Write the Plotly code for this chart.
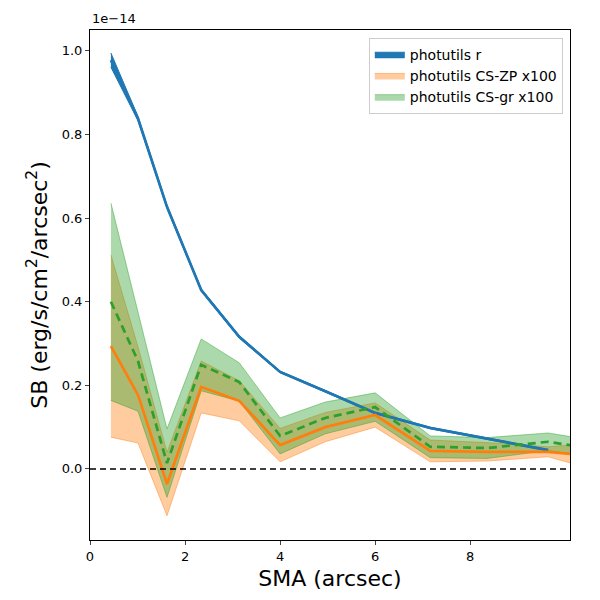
import plotly.graph_objects as go

# SMA (arcsec)
sma = [0.44, 1.01, 1.62, 2.34, 3.14, 4.0, 4.95, 6.0, 7.16, 8.36, 9.64, 11.0]

# photutils r surface brightness (units of 1e-14), last point missing
sb_r = [0.978, 0.838, 0.627, 0.428, 0.316, 0.232, 0.186, 0.134, 0.098, 0.072, 0.045, None]
sb_r_err = [0.017, 0.005, 0.004, 0.003, 0.003, 0.002, 0.002, 0.002, 0.002, 0.002, 0.002, None]

# photutils CS-ZP x100 (units of 1e-14)
sb_zp = [0.294, 0.177, -0.036, 0.196, 0.163, 0.057, 0.100, 0.129, 0.043, 0.041, 0.041, 0.026]
sb_zp_err = [0.218, 0.115, 0.076, 0.062, 0.048, 0.040, 0.035, 0.029, 0.026, 0.022, 0.012, 0.040]

# photutils CS-gr x100 (units of 1e-14)
sb_gr = [0.400, 0.258, 0.014, 0.249, 0.208, 0.079, 0.122, 0.148, 0.053, 0.050, 0.065, 0.041]
sb_gr_err = [0.236, 0.120, 0.082, 0.062, 0.046, 0.043, 0.038, 0.034, 0.026, 0.025, 0.021, 0.020]

xticks = [0, 2, 4, 6, 8]
yticks = [0.0, 0.2, 0.4, 0.6, 0.8, 1.0]

BLUE = "#1f77b4"
ORANGE = "#ff7f0e"
GREEN = "#2ca02c"


def band(vals, errs, sign):
    return [None if v is None else v + sign * e for v, e in zip(vals, errs)]


fig = go.Figure()

series = [
    (sb_r, sb_r_err, "photutils r", "rgba(31,119,180,1)", "rgba(31,119,180,1)"),
    (sb_zp, sb_zp_err, "photutils CS-ZP x100", "rgba(255,127,14,0.4)", "rgba(255,127,14,0.45)"),
    (sb_gr, sb_gr_err, "photutils CS-gr x100", "rgba(44,160,44,0.4)", "rgba(44,160,44,0.45)"),
]

for vals, errs, name, fillc, edgec in series:
    fig.add_trace(go.Scatter(
        x=sma, y=band(vals, errs, -1), mode="lines",
        line=dict(color=edgec, width=1), showlegend=False, hoverinfo="skip"))
    fig.add_trace(go.Scatter(
        x=sma, y=band(vals, errs, 1), mode="lines", fill="tonexty",
        fillcolor=fillc, line=dict(color=edgec, width=1), name=name))

fig.add_trace(go.Scatter(x=sma, y=sb_r, mode="lines",
                         line=dict(color=BLUE, width=2.7), showlegend=False))
fig.add_trace(go.Scatter(x=sma, y=sb_zp, mode="lines",
                         line=dict(color=ORANGE, width=2.7), showlegend=False))
fig.add_trace(go.Scatter(x=sma, y=sb_gr, mode="lines",
                         line=dict(color=GREEN, width=2.7, dash="8px,5px"), showlegend=False))

fig.add_shape(type="line", xref="paper", yref="y", x0=0, x1=1, y0=0, y1=0,
              line=dict(color="black", width=1.6, dash="6px,4px"))

fig.add_annotation(text="1e\u221214", xref="paper", yref="paper", x=0, y=1,
                   xanchor="left", yanchor="bottom", showarrow=False,
                   font=dict(size=13, color="black"), yshift=2)

fig.update_layout(
    width=600, height=600,
    margin=dict(l=82, r=38, t=22, b=68),
    paper_bgcolor="white", plot_bgcolor="white",
    font=dict(family="DejaVu Sans", color="black", size=13),
    legend=dict(x=0.985, y=0.985, xanchor="right", yanchor="top",
                traceorder="normal",
                bgcolor="rgba(255,255,255,0.8)", bordercolor="#cccccc",
                borderwidth=1, font=dict(size=14), tracegroupgap=0),
    xaxis=dict(range=[0, 10.1], tickvals=xticks, ticks="outside", ticklen=4,
               showline=True, linecolor="black", linewidth=1, mirror=True,
               showgrid=False, zeroline=False,
               title=dict(text="SMA (arcsec)", font=dict(size=22), standoff=8)),
    yaxis=dict(range=[-0.17, 1.05], tickvals=yticks, tickformat=".1f", ticks="outside",
               ticklen=4, showline=True, linecolor="black", linewidth=1, mirror=True,
               showgrid=False, zeroline=False,
               title=dict(text="SB (erg/s/cm<sup>2</sup>/arcsec<sup>2</sup>)",
                          font=dict(size=22), standoff=8)),
)

fig.write_html("out.html")
